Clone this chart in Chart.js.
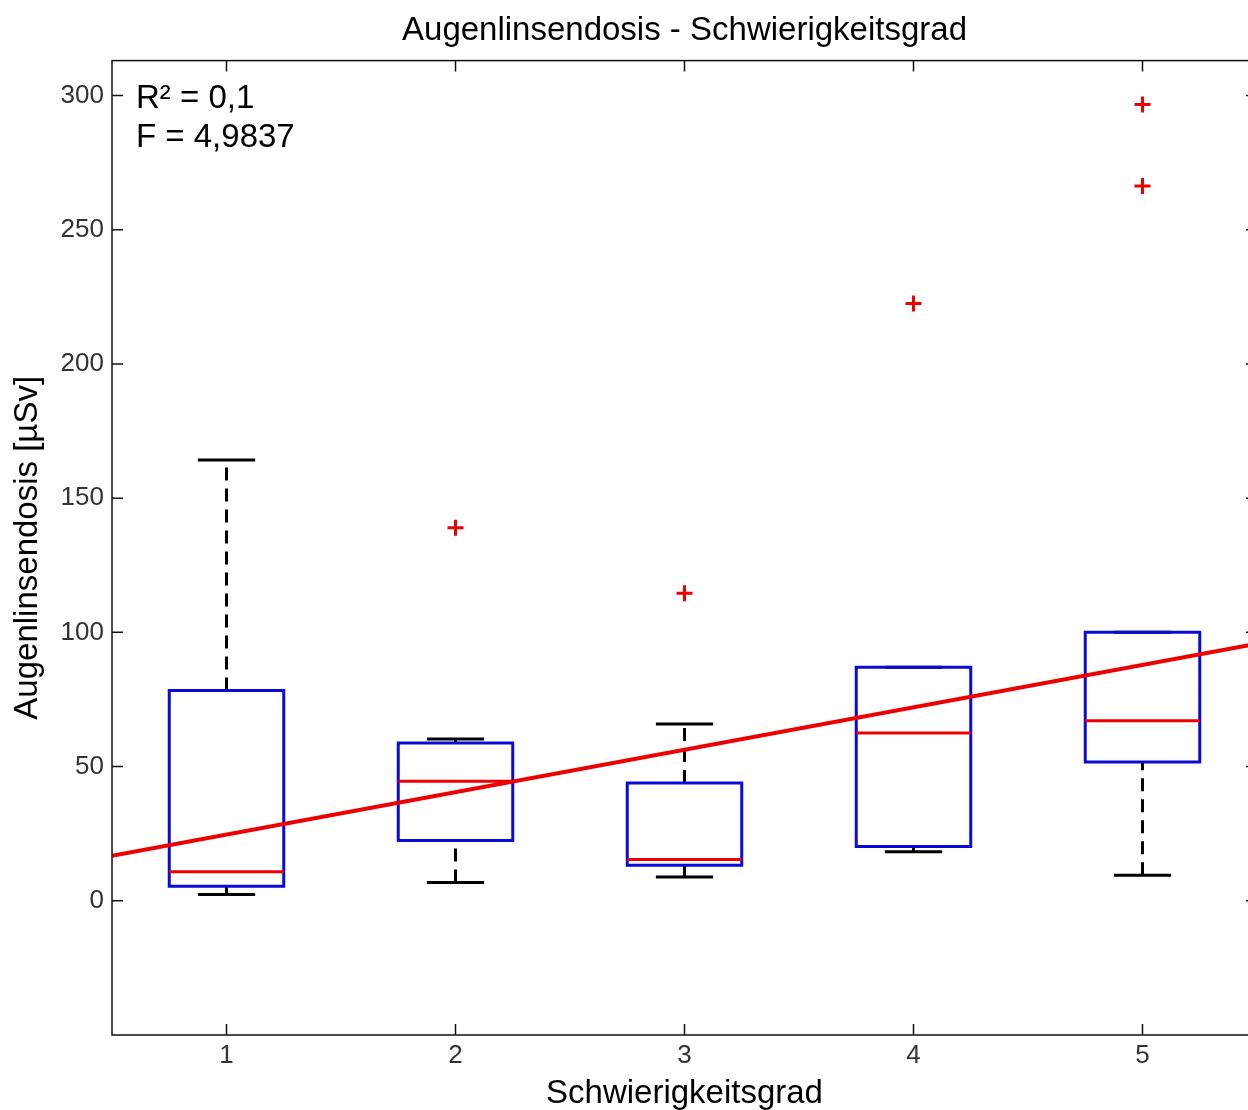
<!DOCTYPE html>
<html>
<head>
<meta charset="utf-8">
<script src="https://cdn.jsdelivr.net/npm/chart.js@4"></script>
<style>
  html, body { margin: 0; padding: 0; background: #fff; overflow: hidden; }
  canvas { display: block; }
</style>
</head>
<body>
<canvas id="chart" width="1268" height="1110"></canvas>
<script>
const categories = [1, 2, 3, 4, 5];
const q1 = [5.4, 22.5, 13.2, 20.2, 51.7];
const medians = [10.8, 44.5, 15.4, 62.5, 67.1];
const q3 = [78.3, 58.8, 43.9, 87.0, 100.0];
const whiskerLow = [2.3, 6.8, 8.9, 18.3, 9.5];
const whiskerHigh = [164.2, 60.3, 65.9, 87.0, 100.0];
const outliers = [[], [139.0], [114.6], [222.5], [296.6, 266.3]];

// Regressionsgerade
const fitIntercept = 8.9;
const fitSlope = 15.8;
const statsText = ['R² = 0,1', 'F = 4,9837'];

const xTicks = [1, 2, 3, 4, 5];
const yTicks = [0, 50, 100, 150, 200, 250, 300];

const boxHalf = 0.25;
const capHalf = 0.125;
const blue = '#0a0ad8';
const red = '#ee0000';

// Segmente mit Lücken (y: null) zusammensetzen
function segments(list) {
    const out = [];
    list.forEach(function(s) {
        s.forEach(function(p) { out.push(p); });
        out.push({ x: s[s.length - 1].x, y: null });
    });
    return out;
}

const boxData = segments(categories.map(function(c, i) {
    return [
        { x: c - boxHalf, y: q1[i] }, { x: c + boxHalf, y: q1[i] },
        { x: c + boxHalf, y: q3[i] }, { x: c - boxHalf, y: q3[i] },
        { x: c - boxHalf, y: q1[i] }
    ];
}));
const whiskerData = segments(categories.flatMap(function(c, i) {
    return [
        [{ x: c, y: q3[i] }, { x: c, y: whiskerHigh[i] }],
        [{ x: c, y: whiskerLow[i] }, { x: c, y: q1[i] }]
    ];
}));
const capData = segments(categories.flatMap(function(c, i) {
    return [
        [{ x: c - capHalf, y: whiskerHigh[i] }, { x: c + capHalf, y: whiskerHigh[i] }],
        [{ x: c - capHalf, y: whiskerLow[i] }, { x: c + capHalf, y: whiskerLow[i] }]
    ];
}));
const medianData = segments(categories.map(function(c, i) {
    return [{ x: c - boxHalf, y: medians[i] }, { x: c + boxHalf, y: medians[i] }];
}));
const outlierData = categories.flatMap(function(c, i) {
    return outliers[i].map(function(v) { return { x: c, y: v }; });
});
const fitData = [0.5, 5.5].map(function(x) { return { x: x, y: fitIntercept + fitSlope * x }; });

// Rahmen mit Ticks nach innen (wie MATLAB) und Textbox
const framePlugin = {
    id: 'frame',
    afterDraw(chart) {
        const ctx = chart.ctx;
        const a = chart.chartArea;
        const xs = chart.scales.x, ys = chart.scales.y;
        const tl = 11;
        ctx.save();
        ctx.strokeStyle = '#111';
        ctx.lineWidth = 1.5;
        ctx.strokeRect(a.left, a.top, a.right - a.left, a.bottom - a.top);
        ctx.beginPath();
        xTicks.forEach(function(v) {
            const px = xs.getPixelForValue(v);
            ctx.moveTo(px, a.bottom); ctx.lineTo(px, a.bottom - tl);
            ctx.moveTo(px, a.top); ctx.lineTo(px, a.top + tl);
        });
        yTicks.forEach(function(v) {
            const py = ys.getPixelForValue(v);
            ctx.moveTo(a.left, py); ctx.lineTo(a.left + tl, py);
            ctx.moveTo(a.right, py); ctx.lineTo(a.right - tl, py);
        });
        ctx.stroke();

        ctx.fillStyle = '#000';
        ctx.font = '33px "Liberation Sans", Arial, sans-serif';
        ctx.textBaseline = 'alphabetic';
        ctx.textAlign = 'left';
        ctx.fillText(statsText[0], a.left + 24, a.top + 47);
        ctx.fillText(statsText[1], a.left + 24, a.top + 86);
        ctx.restore();
    }
};

const font = '"Liberation Sans", Arial, sans-serif';

function lineSet(data, color, width, order, dash) {
    return {
        data: data,
        showLine: true,
        borderColor: color,
        borderWidth: width,
        borderDash: dash || [],
        borderCapStyle: 'square',
        borderJoinStyle: 'miter',
        pointRadius: 0,
        order: order
    };
}

new Chart(document.getElementById('chart'), {
    type: 'scatter',
    data: {
        datasets: [
            Object.assign(lineSet(fitData, red, 4, 0), { borderCapStyle: 'butt' }),
            {
                data: outlierData,
                pointStyle: 'cross',
                pointRadius: 8,
                pointBorderWidth: 3,
                pointBorderColor: red,
                order: 1
            },
            Object.assign(lineSet(medianData, red, 3, 2), { borderCapStyle: 'butt' }),
            lineSet(boxData, blue, 3, 3),
            Object.assign(lineSet(capData, '#000', 3, 4), { borderCapStyle: 'butt' }),
            Object.assign(lineSet(whiskerData, '#000', 3, 5, [13, 8]), { borderCapStyle: 'butt' })
        ]
    },
    options: {
        responsive: false,
        animation: false,
        layout: { padding: { left: 0, right: 1, top: 0, bottom: 0 } },
        plugins: {
            legend: { display: false },
            tooltip: { enabled: false },
            title: {
                display: true,
                fullSize: false,
                text: 'Augenlinsendosis - Schwierigkeitsgrad',
                color: '#000',
                font: { family: font, size: 33, weight: 'normal' },
                padding: { top: 11, bottom: 10 }
            }
        },
        scales: {
            x: {
                type: 'linear',
                min: 0.5,
                max: 5.5,
                offset: false,
                afterBuildTicks: function(scale) { scale.ticks = xTicks.map(function(v) { return { value: v }; }); },
                afterFit: function(scale) { scale.height = 75; scale.paddingLeft = 0; scale.paddingRight = 0; },
                grid: { display: false, drawTicks: false, offset: false },
                border: { display: false },
                ticks: { color: '#333', padding: 5, font: { family: font, size: 26 } },
                title: {
                    display: true,
                    text: 'Schwierigkeitsgrad',
                    color: '#000',
                    font: { family: font, size: 33 },
                    padding: { top: 0, bottom: -4 }
                }
            },
            y: {
                type: 'linear',
                min: -50,
                max: 313,
                afterBuildTicks: function(scale) { scale.ticks = yTicks.map(function(v) { return { value: v }; }); },
                afterFit: function(scale) { scale.width = 112; scale.paddingTop = 0; scale.paddingBottom = 0; },
                grid: { display: false, drawTicks: false },
                border: { display: false },
                ticks: { color: '#333', padding: 8, font: { family: font, size: 26 } },
                title: {
                    display: true,
                    text: 'Augenlinsendosis [µSv]',
                    color: '#000',
                    font: { family: font, size: 33 },
                    padding: { top: 8, bottom: 0 }
                }
            }
        }
    },
    plugins: [framePlugin]
});
</script>
</body>
</html>
